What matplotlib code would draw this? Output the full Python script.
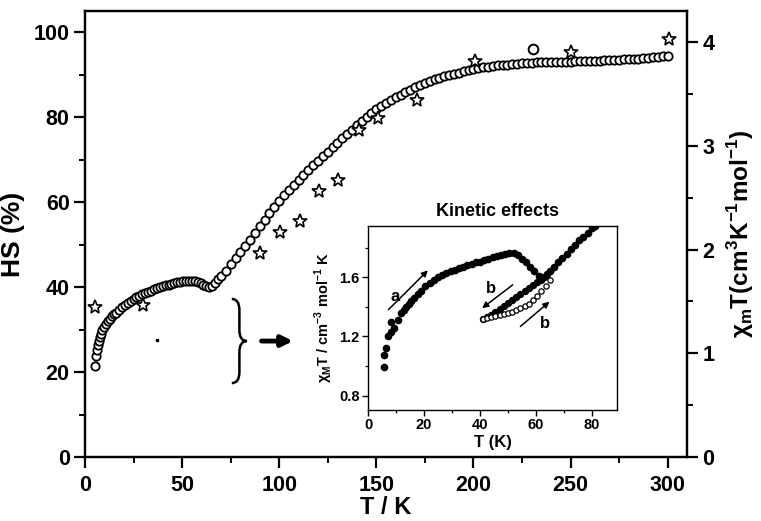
import numpy as np
import matplotlib
matplotlib.use("Agg")
import matplotlib.pyplot as plt
from matplotlib.path import Path
from matplotlib.patches import PathPatch
from matplotlib.ticker import MultipleLocator

plt.rcParams["font.family"] = ["Liberation Sans", "DejaVu Sans"]
plt.rcParams["font.weight"] = "bold"

# main curve: HS fraction from magnetic data
T_main = [5, 5.5, 6, 6.5, 7, 7.5, 8, 9, 10, 11, 12, 13, 14, 15, 16, 17.5, 19, 20.5,
          22, 23.5, 25, 26.5, 28, 29.5, 31, 32.5, 34, 35.5, 37, 38.5, 40, 41.5, 43,
          44.5, 46, 47.5, 49, 50.5, 52, 53.5, 55, 56.5, 58, 59.5, 61, 62.5, 64, 65.5,
          67, 68.5, 70, 72.5, 75, 77.5, 80, 82.5, 85, 87.5, 90, 92.5, 95, 97.5, 100,
          102.5, 105, 107.5, 110, 112.5, 115, 117.5, 120, 122.5, 125, 127.5, 130,
          132.5, 135, 137.5, 140, 142.5, 145, 147.5, 150, 152.5, 155, 157.5, 160,
          162.5, 165, 167.5, 170, 172.5, 175, 177.5, 180, 182.5, 185, 187.5, 190,
          192.5, 195, 197.5, 200, 202.5, 205, 207.5, 210, 212.5, 215, 217.5, 220,
          222.5, 225, 227.5, 230, 232.5, 235, 237.5, 240, 242.5, 245, 247.5, 250,
          252.5, 255, 257.5, 260, 262.5, 265, 267.5, 270, 272.5, 275, 277.5, 280,
          282.5, 285, 287.5, 290, 292.5, 295, 297.5, 300]
HS_main = [21.5, 23.8, 25.2, 26.4, 27.4, 28.2, 28.9, 29.9, 30.7, 31.4, 32.0, 32.6, 33.1,
           33.6, 34.0, 34.6, 35.2, 35.7, 36.2, 36.7, 37.2, 37.6, 38.0, 38.3, 38.6, 38.9,
           39.2, 39.5, 39.7, 40.0, 40.2, 40.4, 40.6, 40.8, 41.0, 41.2, 41.3, 41.4, 41.5,
           41.5, 41.5, 41.4, 41.2, 40.9, 40.5, 40.2, 40.0, 40.3, 41.0, 41.8, 42.6, 43.9,
           45.4, 46.9, 48.3, 49.7, 51.1, 52.7, 54.3, 55.9, 57.4, 58.9, 60.3, 61.6, 62.8,
           64.0, 65.3, 66.4, 67.6, 68.7, 69.8, 70.8, 71.9, 72.9, 73.9, 75.0, 76.0, 77.1,
           78.1, 79.1, 80.1, 81.0, 81.9, 82.6, 83.3, 84.0, 84.7, 85.3, 85.9, 86.4, 87.0,
           87.5, 88.0, 88.5, 88.9, 89.3, 89.6, 89.9, 90.2, 90.5, 90.8, 91.0, 91.3, 91.5,
           91.7, 91.9, 92.0, 92.2, 92.3, 92.4, 92.5, 92.6, 92.7, 92.8, 92.8, 92.9, 92.9,
           93.0, 93.0, 93.0, 93.1, 93.1, 93.1, 93.2, 93.2, 93.2, 93.3, 93.3, 93.3, 93.4,
           93.4, 93.5, 93.5, 93.6, 93.7, 93.7, 93.8, 93.9, 94.0, 94.1, 94.2, 94.3, 94.4]

# Moessbauer points
T_moss = [5, 30, 90, 100.5, 110.5, 120.5, 130.5, 141, 151, 171, 201, 250.5, 300.5]
HS_moss = [35.2, 35.8, 48.1, 52.9, 55.6, 62.7, 65.3, 77.0, 79.8, 84.0, 93.3, 95.3, 98.4]
T_extra = [230.8]
HS_extra = [96.1]

# inset: kinetic effects
T_a = [5.7, 5.7, 6.6, 7.2, 8.1, 8.1, 9.3, 10.7, 11.9, 13.0, 13.7, 14.5, 15.5, 16.5, 17.9,
       19, 20.5, 22, 23.5, 25, 26.5, 28, 29.5, 31, 32.5, 34, 35.5, 37, 38.5, 40, 41.5,
       43, 44.5, 46, 47.5, 49, 50.5, 52, 53.5, 55, 56.5, 58, 59.5, 61, 62, 63, 64, 65,
       66.5, 68, 69.5, 71, 72.5, 74, 75.5, 77, 78.5, 80, 81]
chi_a = [0.996, 1.075, 1.124, 1.20, 1.23, 1.30, 1.255, 1.31, 1.357, 1.38, 1.40, 1.42,
         1.44, 1.46, 1.49, 1.51, 1.54, 1.56, 1.58, 1.60, 1.615, 1.627, 1.64, 1.65, 1.66,
         1.67, 1.68, 1.69, 1.70, 1.705, 1.715, 1.725, 1.735, 1.745, 1.752, 1.758, 1.762,
         1.762, 1.75, 1.725, 1.70, 1.67, 1.64, 1.61, 1.59, 1.60, 1.62, 1.64, 1.67, 1.70,
         1.73, 1.76, 1.79, 1.82, 1.85, 1.875, 1.90, 1.93, 1.95]
T_bc = [62, 60.5, 59, 57.5, 56, 54.5, 53, 51.5, 50, 48.5, 47, 45.5, 44, 42.5, 41]
chi_bc = [1.58, 1.565, 1.545, 1.525, 1.505, 1.485, 1.465, 1.445, 1.425, 1.405, 1.385,
          1.365, 1.345, 1.33, 1.32]
T_bh = [41, 42.5, 44, 45.5, 47, 48.5, 50, 51.5, 53, 54.5, 56, 57.5, 59, 60.5, 62, 63.5, 65]
chi_bh = [1.32, 1.325, 1.33, 1.335, 1.342, 1.35, 1.358, 1.366, 1.376, 1.39, 1.405, 1.42,
          1.445, 1.475, 1.505, 1.54, 1.58]

fig = plt.figure(figsize=(7.61, 5.21), dpi=100)
ax = fig.add_axes([0.1117, 0.1228, 0.7911, 0.8561])

ax.plot(T_main, HS_main, "o", mfc="white", mec="black", ms=6, mew=1.3, zorder=3)
ax.plot(T_moss, HS_moss, "*", mfc="white", mec="black", ms=10, mew=1.2, zorder=4)
ax.plot(T_extra, HS_extra, "o", mfc="white", mec="black", ms=7, mew=1.4, zorder=4)

ax.set_xlim(0, 310)
ax.set_ylim(0, 105)
ax.xaxis.set_major_locator(MultipleLocator(50))
ax.xaxis.set_minor_locator(MultipleLocator(25))
ax.yaxis.set_major_locator(MultipleLocator(20))
ax.yaxis.set_minor_locator(MultipleLocator(10))
ax.tick_params(which="major", direction="out", length=8, width=1.6, labelsize=15.5, pad=3)
ax.tick_params(which="minor", direction="out", length=4.5, width=1.4)
ax.tick_params(axis="x", which="major", pad=5)
for s in ax.spines.values():
    s.set_linewidth(1.6)
ax.set_xlabel("T / K", fontsize=17, fontweight="bold", labelpad=0)
ax.set_ylabel("HS (%)", fontsize=19, fontweight="bold", labelpad=6)

ax2 = ax.twinx()
ax2.set_ylim(0, 4.3)
ax2.yaxis.set_major_locator(MultipleLocator(1))
ax2.yaxis.set_minor_locator(MultipleLocator(0.5))
ax2.tick_params(which="major", direction="out", length=8, width=1.6, labelsize=15.5, pad=3)
ax2.tick_params(which="minor", direction="out", length=4.5, width=1.4)
for s in ax2.spines.values():
    s.set_linewidth(1.6)
ax2.set_ylabel(r"χ$_\mathregular{m}$T(cm$^\mathregular{3}$K$^\mathregular{-1}$mol$^\mathregular{-1}$)",
               fontsize=17.5, fontweight="bold", labelpad=8)

# brace, arrow and a stray dot pointing at the inset
xl, xm, xt = 75.6, 79.5, 83.4
yt, ymid, yb, d = 37.2, 27.3, 17.4, 2.6
verts = [(xl, yt), (xm, yt), (xm, yt - d), (xm, ymid + d), (xm, ymid), (xt, ymid),
         (xm, ymid), (xm, ymid - d), (xm, yb + d), (xm, yb), (xl, yb)]
codes = [Path.MOVETO, Path.CURVE3, Path.CURVE3, Path.LINETO, Path.CURVE3, Path.CURVE3,
         Path.CURVE3, Path.CURVE3, Path.LINETO, Path.CURVE3, Path.CURVE3]
ax.add_patch(PathPatch(Path(verts, codes), fill=False, lw=1.8, color="black"))
ax.annotate("", xy=(108.5, 27.3), xytext=(89.5, 27.3),
            arrowprops=dict(arrowstyle="-|>", lw=3.5, color="black", mutation_scale=16))
ax.plot([37], [27.5], "s", color="black", ms=1.5)

# inset
ax_in = fig.add_axes([0.4836, 0.2131, 0.3272, 0.3532])
ax_in.plot(T_a, chi_a, "o", color="black", ms=4.5, zorder=3)
ax_in.plot(T_bc, chi_bc, "o", color="black", ms=4.3, zorder=3)
ax_in.plot(T_bh, chi_bh, "o", mfc="white", mec="black", ms=3.8, mew=0.9, zorder=4)
ax_in.set_xlim(0, 89)
ax_in.set_ylim(0.703, 1.947)
ax_in.xaxis.set_major_locator(MultipleLocator(20))
ax_in.xaxis.set_minor_locator(MultipleLocator(10))
ax_in.yaxis.set_major_locator(MultipleLocator(0.4))
ax_in.yaxis.set_minor_locator(MultipleLocator(0.2))
ax_in.tick_params(which="major", direction="out", length=4, width=1.0, labelsize=10.5, pad=2)
ax_in.tick_params(which="minor", direction="out", length=2.5, width=0.9)
for s in ax_in.spines.values():
    s.set_linewidth(1.0)
ax_in.set_xlabel("T (K)", fontsize=12, fontweight="bold", labelpad=2)
ax_in.set_ylabel(r"χ$_\mathregular{M}$T / cm$^\mathregular{-3}$ mol$^\mathregular{-1}$ K",
                 fontsize=10.5, fontweight="bold", labelpad=3)
fig.text(497 / 761, 1 - 212 / 521, "Kinetic effects", fontsize=13, fontweight="bold",
         ha="center", va="center")

arr = dict(arrowstyle="-|>", lw=1.1, color="black", mutation_scale=9)
ax_in.annotate("", xy=(22.1, 1.66), xytext=(6.6, 1.368), arrowprops=arr)
ax_in.text(9.6, 1.47, "a", fontsize=12, fontweight="bold", ha="center", va="center")
ax_in.annotate("", xy=(40.0, 1.38), xytext=(52.5, 1.56), arrowprops=arr)
ax_in.text(44.1, 1.525, "b", fontsize=12, fontweight="bold", ha="center", va="center")
ax_in.annotate("", xy=(65.6, 1.447), xytext=(53.7, 1.255), arrowprops=arr)
ax_in.text(63.2, 1.29, "b", fontsize=12, fontweight="bold", ha="center", va="center")

fig.savefig("out.png", dpi=100)
